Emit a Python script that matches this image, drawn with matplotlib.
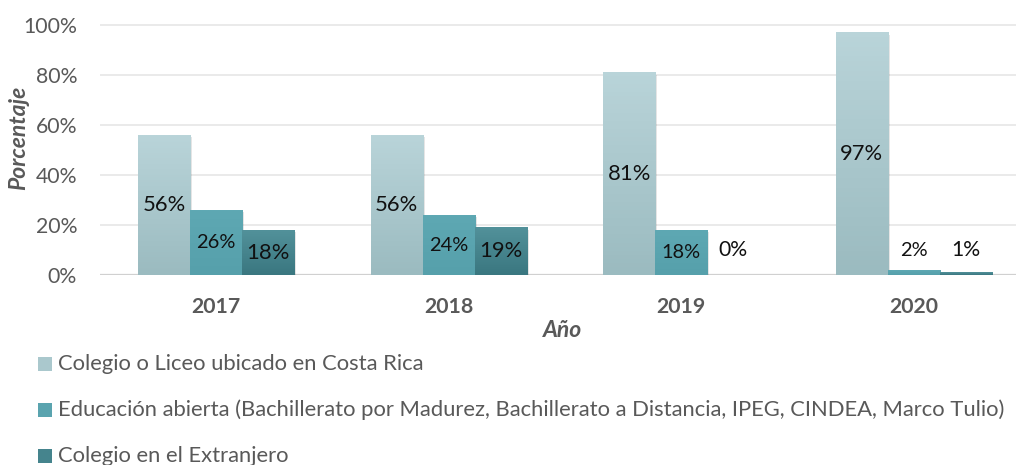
import numpy as np
import matplotlib
matplotlib.use('Agg')
import matplotlib.pyplot as plt
from matplotlib.patches import Rectangle
from matplotlib.colors import LinearSegmentedColormap

years = ['2017', '2018', '2019', '2020']
series = [
    'Colegio o Liceo ubicado en Costa Rica',
    'Educación abierta (Bachillerato por Madurez, Bachillerato a Distancia, IPEG, CINDEA, Marco Tulio)',
    'Colegio en el Extranjero',
]
costa_rica = [56, 56, 81, 97]
abierta = [26, 24, 18, 2]
extranjero = [18, 19, 0, 1]
values = [costa_rica, abierta, extranjero]

# (top, bottom) gradient colours per series
grad = [('#b9d4d9', '#9bbbc0'), ('#5ea8b3', '#56a0ab'), ('#52919a', '#3a7780')]
label_sizes = [15.8, 14.4, 15.8]

plt.rcParams['font.family'] = ['Lato', 'DejaVu Sans']

fig = plt.figure(figsize=(10.16, 4.65), dpi=100)
W, H = 1016, 465
ax = fig.add_axes([100 / W, 1 - 275 / H, 930 / W, 255 / H])

for t in range(20, 101, 20):
    ax.axhline(t, color='#e6e6e6', lw=1.2, zorder=0)
ax.axhline(0, color='#d0d0d0', lw=1.6, zorder=1)

bw = 0.224
x = np.arange(len(years))
for i, (vals, (ctop, cbot)) in enumerate(zip(values, grad)):
    cmap = LinearSegmentedColormap.from_list('g%d' % i, [cbot, ctop])
    for j, v in enumerate(vals):
        x0 = x[j] + (i - 1) * bw - bw / 2
        if v > 0:
            # faint shadow
            ax.add_patch(Rectangle((x0 + 0.008, -0.8), bw, v, color='#000000',
                                   alpha=0.10, lw=0, zorder=1.5))
            ax.imshow(np.linspace(0, 1, 50).reshape(-1, 1), cmap=cmap, origin='lower',
                      extent=(x0, x0 + bw, 0, v), aspect='auto', zorder=2)
        ypos = v / 2 if v >= 8 else 10
        fs = label_sizes[i] if (v >= 8 or i == 1) else 15.2
        ax.text(x0 + bw / 2, ypos, f'{v}%', ha='center', va='center',
                fontsize=fs, color='#111111', zorder=3)

ax.set_xlim(-0.5, 3.5)
ax.set_ylim(0, 102)
ax.set_xticks(x)
ax.set_xticklabels(years, fontsize=15.3, fontweight='bold', color='#595959')
ax.set_yticks(range(0, 101, 20))
ax.set_yticklabels([f'{t}%' for t in range(0, 101, 20)], fontsize=15.3, color='#595959')
ax.tick_params(length=0, axis='x', pad=16)
ax.tick_params(length=0, axis='y', pad=16.5)
for s in ax.spines.values():
    s.set_visible(False)

fig.text(563 / W, 1 - 330 / H, 'Año', ha='center', va='center', fontsize=16.5,
         fontweight='bold', fontstyle='italic', color='#595959')
fig.text(19 / W, 1 - 138 / H, 'Porcentaje', rotation=90, ha='center', va='center',
         fontsize=16.5, fontweight='bold', fontstyle='italic', color='#595959')

# legend
leg_colors = ['#aac8cd', '#5aa4af', '#45848d']
for k, name in enumerate(series):
    yc = 364 + 46 * k
    fig.add_artist(Rectangle((38 / W, 1 - (yc + 7) / H), 14 / W, 14 / H,
                             transform=fig.transFigure, color=leg_colors[k], lw=0))
    fig.text(58 / W, 1 - yc / H, name, ha='left', va='center', fontsize=15.8,
             color='#595959')

fig.savefig('out.png', dpi=100)
